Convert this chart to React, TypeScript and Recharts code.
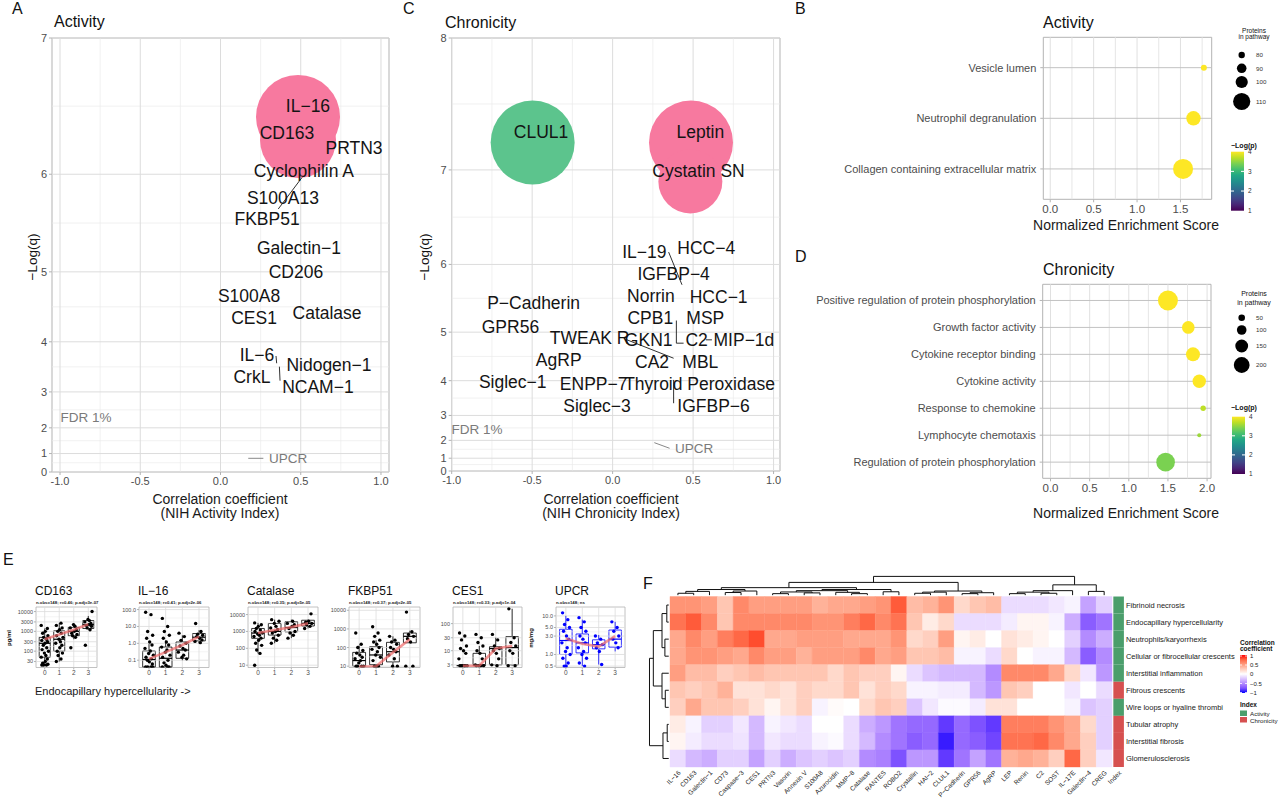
import React from 'react';
import { ScatterChart, Scatter, XAxis, YAxis, ZAxis, ReferenceLine, ReferenceArea } from 'recharts';

const FONT = '"Liberation Sans", Arial, Helvetica, sans-serif';
const TICK_GRAY = '#4d4d4d';
const GRID = '#dcdcdc';
const GRID_MINOR = '#ebebeb';
const BORDER = '#b3b3b3';
const PINK = '#f7799f';
const GREEN = '#5cc48d';

// ---------- Panel A (Activity volcano) ----------
const actNames = ['IL−16', 'CD163', 'PRTN3', 'Cyclophilin A', 'S100A13', 'FKBP51', 'Galectin−1', 'CD206', 'S100A8', 'CES1', 'Catalase', 'IL−6', 'Nidogen−1', 'CrkL', 'NCAM−1'];
const actCorr = [0.545, 0.414, 0.832, 0.52, 0.389, 0.29, 0.489, 0.47, 0.178, 0.209, 0.664, 0.227, 0.676, 0.196, 0.607];
const actLogQ = [6.543, 6.34, 6.221, 6.029, 5.786, 5.582, 5.277, 4.999, 4.691, 4.379, 4.453, 3.768, 3.578, 3.335, 3.115];
const actBubbleCorr = [0.483, 0.483];
const actBubbleLogQ = [6.462, 6.284];
const actBubbleSign = [1, 1];
const actLinks = [[0.637, 6.204, 0.36, 5.681], [0.346, 3.749, 0.35, 3.612], [0.367, 3.545, 0.371, 3.255]];
const actRefNames = ['FDR 1%', 'UPCR'];
const actRefCorr = [-0.838, 0.421];
const actRefLogQ = [2.338, 0.788];
const actRefLinks = [[0.173, 0.773, 0.267, 0.773]];

// ---------- Panel C (Chronicity volcano) ----------
const chrNames = ['CLUL1', 'Leptin', 'Cystatin SN', 'IL−19', 'HCC−4', 'IGFBP−4', 'Norrin', 'HCC−1', 'P−Cadherin', 'CPB1', 'MSP', 'GPR56', 'TWEAK R', 'GKN1', 'C2', 'MIP−1d', 'AgRP', 'CA2', 'MBL', 'Siglec−1', 'ENPP−7', 'Thyroid Peroxidase', 'Siglec−3', 'IGFBP−6'];
const chrCorr = [-0.445, 0.545, 0.534, 0.197, 0.582, 0.379, 0.238, 0.659, -0.491, 0.234, 0.576, -0.635, -0.143, 0.224, 0.522, 0.816, -0.335, 0.245, 0.545, -0.621, -0.118, 0.54, -0.097, 0.627];
const chrLogQ = [7.327, 7.327, 6.986, 6.158, 6.198, 5.88, 5.577, 5.558, 5.479, 5.236, 5.236, 5.086, 4.904, 4.862, 4.862, 4.862, 4.47, 4.433, 4.433, 3.977, 3.912, 3.912, 3.308, 3.308];
const chrBubbleCorr = [-0.497, 0.487, 0.483];
const chrBubbleLogQ = [7.237, 7.237, 6.895];
const chrBubbleSign = [-1, 1, 1];
const chrLinks = [[0.348, 6.151, 0.431, 5.733], [0.396, 5.197, 0.396, 4.8], [0.396, 4.8, 0.441, 4.8], [0.089, 4.862, 0.379, 4.504], [0.379, 4.018, 0.379, 3.391], [0.58, 4.862, 0.617, 4.862]];
const chrRefNames = ['FDR 1%', 'UPCR'];
const chrRefCorr = [-0.842, 0.507];
const chrRefLogQ = [2.458, 1.597];
const chrRefLinks = [[0.259, 1.888, 0.354, 1.597]];

// ---------- Panels B / D (enrichment) ----------
const actPathways = ['Vesicle lumen', 'Neutrophil degranulation', 'Collagen containing extracellular matrix'];
const actNES = [1.77, 1.65, 1.53];
const actLogP = [4.0, 4.0, 4.0];
const actProteins = [80, 95, 112];
const chrPathways = ['Positive regulation of protein phosphorylation', 'Growth factor activity', 'Cytokine receptor binding', 'Cytokine activity', 'Response to chemokine', 'Lymphocyte chemotaxis', 'Regulation of protein phosphorylation'];
const chrNES = [1.5, 1.76, 1.82, 1.9, 1.95, 1.9, 1.47];
const chrLogP = [4.0, 4.0, 4.0, 4.0, 3.7, 3.55, 3.4];
const chrProteins = [230, 105, 124, 115, 37, 30, 202];

// ---------- Panel E (box plots by endocapillary hypercellularity grade) ----------
const eTitles = ['CD163', 'IL−16', 'Catalase', 'FKBP51', 'CES1', 'UPCR'];
const eSubs = ['n.obs=148; r=0.46; p.adj=3e-07', 'n.obs=148; r=0.41; p.adj=2e-06', 'n.obs=148; r=0.35; p.adj=5e-05', 'n.obs=148; r=0.37; p.adj=2e-05', 'n.obs=148; r=0.33; p.adj=1e-04', 'n.obs=148; ns'];
const eUnits = ['pg/ml', '', '', '', '', 'mg/mg'];
const cd163Vals = [
  [20, 20, 20, 22, 25, 30, 40, 50, 60, 80, 100, 120, 150, 200, 250, 300, 350, 400, 500, 600, 800, 1000, 1400, 2000],
  [30, 40, 60, 80, 100, 150, 200, 250, 300, 400, 500, 600, 800, 1000, 1200, 1500, 2000, 2600],
  [150, 500, 600, 700, 800, 1000, 1200, 1500, 1800, 2200],
  [200, 1200, 1500, 1800, 2000, 2200, 2500, 3000, 3500, 4000, 10000],
];
const cd163Box = [[20, 50, 250, 500, 1400], [30, 100, 400, 1070, 2600], [400, 600, 1000, 1600, 2500], [1200, 1400, 2200, 3500, 6000]];
const cd163Trend = [400, 700, 1200, 2300];
const il16Vals = [
  [70, 50, 5, 3, 2, 1.2, 0.8, 0.5, 0.35, 0.25, 0.2, 0.15, 0.12, 0.1, 0.08, 0.06, 0.04, 0.04, 0.04, 0.04],
  [30, 10, 5, 3, 2, 1.2, 0.8, 0.6, 0.4, 0.3, 0.2, 0.15, 0.1, 0.07, 0.05, 0.04, 0.04, 0.04],
  [4, 2.5, 1.5, 1.0, 0.7, 0.5, 0.4, 0.3, 0.2, 0.15, 0.12],
  [15, 5, 3.5, 3, 2.5, 2, 1.6, 1.3, 1.1],
];
const il16Box = [[0.04, 0.04, 0.11, 0.35, 0.9], [0.04, 0.04, 0.13, 0.6, 1.5], [0.1, 0.13, 0.4, 1.2, 3], [1.0, 1.4, 2.3, 3.8, 6]];
const il16Trend = [0.12, 0.3, 0.8, 2.5];
const catalaseVals = [
  [10, 50, 80, 150, 200, 300, 400, 500, 600, 700, 800, 1000, 1200, 1500, 2000, 2500, 3200],
  [200, 300, 400, 600, 800, 1000, 1300, 1600, 2000, 3000, 4000, 5000],
  [400, 600, 800, 1000, 1500, 2000, 2500, 3000, 4000],
  [1500, 2000, 2500, 3000, 3500, 4000, 11000],
];
const catalaseBox = [[50, 390, 800, 1500, 3200], [200, 610, 1000, 2950, 5000], [400, 950, 1700, 3700, 5000], [1500, 2100, 3000, 4600, 5000]];
const catalaseTrend = [800, 1200, 1800, 3000];
const fkbp51Vals = [
  [600, 150, 100, 70, 50, 40, 30, 25, 20, 15, 10, 10, 10, 10],
  [1300, 600, 400, 250, 200, 150, 100, 80, 60, 40, 30, 20, 10, 10, 10],
  [400, 250, 200, 150, 100, 80, 60, 40, 25, 10, 10],
  [8000, 700, 500, 400, 300, 200, 10, 10],
];
const fkbp51Box = [[10, 10, 20, 55, 130], [10, 12, 40, 110, 250], [10, 17, 60, 190, 400], [180, 180, 400, 600, 800]];
const fkbp51Trend = [9.5, 10, 55, 280];
const ces1Vals = [
  [45, 35, 25, 15, 12, 10, 8, 5, 2.8, 2.8, 2.8, 2.8, 2.8, 2.8],
  [40, 30, 20, 15, 10, 8, 5, 3, 2.8, 2.8, 2.8, 2.8],
  [40, 25, 15, 12, 10, 8, 5, 3, 2.8],
  [350, 30, 20, 15, 10, 8, 2.8, 2.8],
];
const ces1Box = [[2.8, 2.8, 2.8, 2.8, 2.8], [2.8, 2.8, 3, 8, 15], [2.8, 3, 12, 14, 30], [2.8, 3, 13, 33, 350]];
const ces1Trend = [2.8, 2.8, 12, 15];
const upcrVals = [
  [12, 8, 6, 5, 4, 3, 2.5, 2, 1.5, 1.2, 1, 0.8, 0.6, 0.5, 0.5],
  [9, 7, 5, 4, 3, 2.5, 2, 1.5, 1.2, 1, 0.8, 0.6, 0.5],
  [3, 2.5, 2, 1.8, 1.5, 1.2, 0.55],
  [7, 5, 4, 3, 2.5, 2, 1.5],
];
const upcrBox = [[0.5, 1.0, 2.3, 4.5, 10], [0.5, 1.1, 2.0, 3.4, 8], [0.55, 1.4, 1.8, 2.4, 3.2], [1.2, 1.55, 2.5, 4.3, 7]];
const upcrTrend = [2.6, 1.9, 1.6, 3.0];
const eTicks = [[30, 100, 300, 1000, 3000, 10000], [0.1, 1, 10, 100], [10, 100, 1000, 10000], [10, 100, 1000, 10000], [3, 10, 30, 100], [0.5, 1, 3, 5, 10]];
const eTickLabels = [['30', '100', '300', '1000', '3000', '10000'], ['0.1', '1.0', '10.0', '100.0'], ['10', '100', '1000', '10000'], ['10', '100', '1000', '10000'], ['3', '10', '30', '100'], ['0.5', '1.0', '3.0', '5.0', '10.0']];
const eDomains = [[15, 17000], [0.037, 142], [7.3, 28000], [8.5, 15000], [2.4, 410], [0.46, 17]];
const eGroups = [0, 1, 2, 3];

// ---------- Panel F (heatmap) ----------
const hmRows = ['Fibrinoid necrosis', 'Endocapillary hypercellularity', 'Neutrophils/karyorrhexis', 'Cellular or fibrocellular crescents', 'Interstitial inflammation', 'Fibrous crescents', 'Wire loops or hyaline thrombi', 'Tubular atrophy', 'Interstitial fibrosis', 'Glomerulosclerosis'];
const hmIndex = ['Activity', 'Activity', 'Activity', 'Activity', 'Activity', 'Chronicity', 'Activity', 'Chronicity', 'Chronicity', 'Chronicity'];
const hmCols = ['IL−16', 'CD163', 'Galectin−1', 'CD73', 'Caspase−3', 'CES1', 'PRTN3', 'Vasorin', 'Annexin V', 'S100A8', 'Azurocidin', 'MMP−8', 'Catalase', 'RANTES', 'ROBO2', 'Crystallin', 'HAI−2', 'CLUL1', 'P−Cadherin', 'GPR56', 'AgRP', 'LEP', 'Renin', 'C2', 'SOST', 'IL−17E', 'Galectin−4', 'CREG'];
const hmVals = [
  [0.55, 0.55, 0.5, 0.3, 0.6, 0.5, 0.5, 0.5, 0.5, 0.4, 0.45, 0.45, 0.5, 0.55, 0.8, 0.35, 0.4, 0.55, 0.2, 0.3, 0.35, -0.15, -0.15, -0.15, -0.1, -0.05, -0.4, -0.2],
  [0.7, 0.8, 0.6, 0.3, 0.6, 0.6, 0.6, 0.6, 0.6, 0.55, 0.55, 0.65, 0.75, 0.6, 0.7, 0.3, 0.1, 0.2, -0.15, -0.15, -0.15, -0.08, 0.05, 0.05, -0.05, -0.35, -0.7, -0.6],
  [0.45, 0.6, 0.5, 0.65, 0.75, 0.85, 0.45, 0.45, 0.5, 0.5, 0.5, 0.45, 0.45, 0.45, 0.55, 0.2, 0.25, 0.5, 0.05, 0.1, 0.0, 0.15, 0.1, 0.05, 0.0, -0.2, -0.5, -0.35],
  [0.45, 0.55, 0.55, 0.5, 0.45, 0.6, 0.5, 0.5, 0.4, 0.5, 0.5, 0.5, 0.6, 0.45, 0.5, 0.3, 0.3, 0.35, -0.05, -0.05, -0.15, 0.2, 0.0, -0.05, -0.05, -0.3, -0.7, -0.5],
  [0.5, 0.35, 0.35, 0.25, 0.3, 0.35, 0.3, 0.3, 0.3, 0.3, 0.2, 0.3, 0.25, 0.25, 0.05, -0.15, -0.25, -0.3, -0.3, -0.3, -0.5, 0.6, 0.6, 0.6, 0.45, 0.2, -0.1, -0.45],
  [0.3, 0.25, 0.3, 0.4, 0.15, 0.15, 0.2, 0.15, 0.25, 0.2, 0.2, 0.3, 0.15, 0.25, 0.2, -0.05, -0.05, -0.08, -0.08, -0.3, -0.45, 0.3, 0.25, 0.0, 0.0, -0.1, 0.0, -0.15],
  [0.25, 0.45, 0.3, 0.3, 0.25, 0.15, 0.05, 0.15, 0.25, -0.05, 0.02, 0.0, 0.2, 0.3, 0.25, -0.25, -0.1, -0.02, -0.02, -0.08, 0.15, 0.15, 0.0, 0.0, 0.0, -0.05, -0.25, -0.2],
  [0.1, -0.05, -0.2, -0.2, -0.1, -0.3, -0.05, -0.1, -0.15, 0.0, 0.0, -0.15, -0.35, -0.45, -0.6, -0.65, -0.65, -0.85, -0.65, -0.75, -0.85, 0.65, 0.65, 0.65, 0.55, 0.45, 0.2, -0.2],
  [0.05, -0.08, -0.15, -0.15, -0.12, -0.3, -0.1, -0.15, -0.15, -0.05, -0.02, -0.15, -0.3, -0.5, -0.6, -0.7, -0.65, -0.95, -0.65, -0.7, -0.8, 0.7, 0.7, 0.75, 0.6, 0.45, 0.25, -0.2],
  [-0.15, -0.3, -0.35, -0.2, -0.2, -0.4, -0.2, -0.35, -0.25, -0.2, -0.25, -0.2, -0.5, -0.55, -0.75, -0.45, -0.45, -0.85, -0.6, -0.4, -0.6, 0.4, 0.45, 0.4, 0.25, 0.75, 0.25, -0.1],
];
// cluster trees: [left, right, mergeHeight]
const colTree: any = [
  [
    [
      [[[0, 1, 0.1], 2, 0.2], [[3, 4, 0.14], 5, 0.22], 0.3],
      [[[[6, 7, 0.08], [8, 9, 0.12], 0.17], [10, [11, 12, 0.08], 0.15], 0.24], [13, 14, 0.18], 0.3],
      0.4,
    ],
    [[[15, 16, 0.1], 17, 0.16], [[18, 19, 0.08], 20, 0.13], 0.22],
    0.68,
  ],
  [[[[21, 22, 0.08], [23, 24, 0.1], 0.16], 25, 0.24], [26, 27, 0.2], 0.55],
  1.0,
];
const rowTree: any = [
  [[[0, 1, 0.1], [2, 3, 0.2], 0.35], [4, [5, 6, 0.18], 0.35], 0.8],
  [[7, 8, 0.08], 9, 0.3],
  1.0,
];

// ---------- helpers ----------
const tq = (v: number) => Math.exp(v / 3) - 1;
const itq = (t: number) => 3 * Math.log(t + 1);
const seq = (a: number, b: number) => { const r: number[] = []; for (let i = a; i <= b; i++) r.push(i); return r; };

const viridisStops = ['#440154', '#482475', '#414487', '#355F8D', '#2A788E', '#21918C', '#22A884', '#44BF70', '#7AD151', '#BDDF26', '#FDE725'];
const hex2rgb = (h: string) => [parseInt(h.slice(1, 3), 16), parseInt(h.slice(3, 5), 16), parseInt(h.slice(5, 7), 16)];
const rgb2hex = (c: number[]) => '#' + c.map((v) => Math.round(Math.max(0, Math.min(255, v))).toString(16).padStart(2, '0')).join('');
function viridis(v: number) {
  const t = Math.max(0, Math.min(1, (v - 1) / 3)) * 10;
  const i = Math.min(9, Math.floor(t));
  const f = t - i;
  const a = hex2rgb(viridisStops[i]);
  const b = hex2rgb(viridisStops[i + 1]);
  return rgb2hex(a.map((x, k) => x + (b[k] - x) * f));
}
const lin = (c: number) => { c /= 255; return c <= 0.04045 ? c / 12.92 : Math.pow((c + 0.055) / 1.055, 2.4); };
const gam = (c: number) => { const v = c <= 0.0031308 ? 12.92 * c : 1.055 * Math.pow(Math.max(c, 0), 1 / 2.4) - 0.055; return Math.max(0, Math.min(1, v)) * 255; };
const Wn = [0.95047, 1, 1.08883];
const fLab = (t: number) => (t > 0.008856 ? Math.cbrt(t) : 7.787 * t + 16 / 116);
const fInv = (t: number) => (t * t * t > 0.008856 ? t * t * t : (t - 16 / 116) / 7.787);
function rgb2lab(c: number[]) {
  const R = lin(c[0]), G = lin(c[1]), B = lin(c[2]);
  const X = (0.4124 * R + 0.3576 * G + 0.1805 * B) / Wn[0];
  const Y = (0.2126 * R + 0.7152 * G + 0.0722 * B) / Wn[1];
  const Z = (0.0193 * R + 0.1192 * G + 0.9505 * B) / Wn[2];
  const fx = fLab(X), fy = fLab(Y), fz = fLab(Z);
  return [116 * fy - 16, 500 * (fx - fy), 200 * (fy - fz)];
}
function lab2hex(l: number[]) {
  const fy = (l[0] + 16) / 116, fx = fy + l[1] / 500, fz = fy - l[2] / 200;
  const X = fInv(fx) * Wn[0], Y = fInv(fy) * Wn[1], Z = fInv(fz) * Wn[2];
  const R = 3.2406 * X - 1.5372 * Y - 0.4986 * Z;
  const G = -0.9689 * X + 1.8758 * Y + 0.0415 * Z;
  const B = 0.0557 * X - 0.204 * Y + 1.057 * Z;
  return rgb2hex([gam(R), gam(G), gam(B)]);
}
const LAB_W = rgb2lab([255, 255, 255]);
const LAB_R = rgb2lab([255, 0, 0]);
const LAB_B = rgb2lab([0, 0, 255]);
function heatColor(v: number) {
  const t = Math.max(0, Math.min(1, Math.abs(v)));
  const e = v >= 0 ? LAB_R : LAB_B;
  return lab2hex(LAB_W.map((w, k) => w + (e[k] - w) * t));
}

function dendro(t: any, out: number[][]): number[] {
  if (typeof t === 'number') return [t + 0.5, 0];
  const a = dendro(t[0], out);
  const b = dendro(t[1], out);
  const h = t[2];
  out.push([a[0], a[1], a[0], h], [b[0], b[1], b[0], h], [a[0], h, b[0], h]);
  return [(a[0] + b[0]) / 2, h];
}

// single-line tick label (no wrapping)
const lineTick = (fmt: (v: number) => string, anchor: string, size: number, fill: string) => (pr: any) => (
  <text x={pr.x} y={pr.y} textAnchor={anchor} dominantBaseline="central" fontSize={size} fill={fill}>{fmt(pr.payload.value)}</text>
);

// ---------- Volcano (A, C) ----------
function Volcano(p: any) {
  const labelData = p.names.map((n: string, i: number) => ({ x: p.corr[i], y: tq(p.logq[i]), name: n }));
  const refData = p.refNames.map((n: string, i: number) => ({ x: p.refCorr[i], y: tq(p.refLogQ[i]), name: n }));
  const bubbleData = p.bCorr.map((c: number, i: number) => ({ x: c, y: tq(p.bLogQ[i]), q: p.bLogQ[i], sign: p.bSign[i] }));
  const majY = seq(0, p.yMax);
  const minY = majY.slice(0, -1).map((v) => (tq(v) + tq(v + 1)) / 2);
  const majX = [-1, -0.5, 0, 0.5, 1];
  const minX = [-0.75, -0.25, 0.25, 0.75];
  return (
    <div style={{ position: 'absolute', left: p.left, top: 0 }}>
      <ScatterChart width={p.width} height={p.height} margin={{ top: p.plotTop, right: p.marginRight, bottom: 0, left: 0 }}>
        <XAxis type="number" dataKey="x" domain={p.xDomain} ticks={majX} allowDataOverflow interval={0}
          tickFormatter={(v: number) => v.toFixed(1)} axisLine={false} tickLine={{ stroke: BORDER }} tickSize={3} tickMargin={2}
          height={p.xAxisH} tick={{ fill: TICK_GRAY, fontSize: 11 }} />
        <YAxis type="number" dataKey="y" domain={[0, tq(p.yMax)]} ticks={majY.map(tq)} allowDataOverflow interval={0}
          tickFormatter={(v: number) => String(Math.round(itq(v)))} axisLine={false} tickLine={{ stroke: BORDER }} tickSize={3} tickMargin={2}
          width={p.yAxisW} tick={{ fill: TICK_GRAY, fontSize: 11 }} />
        <ZAxis zAxisId="b" type="number" dataKey="q" range={p.zRange} domain={[Math.min(...p.bLogQ), Math.max(...p.bLogQ)]} />
        <ZAxis zAxisId="l" type="number" dataKey="x" range={[1, 1]} />
        {minY.map((v) => <ReferenceLine key={'my' + v} y={v} stroke={GRID_MINOR} strokeWidth={0.7} />)}
        {minX.map((v) => <ReferenceLine key={'mx' + v} x={v} stroke={GRID_MINOR} strokeWidth={0.7} />)}
        {majY.map((v) => <ReferenceLine key={'My' + v} y={tq(v)} stroke={GRID} strokeWidth={1} />)}
        {majX.map((v) => <ReferenceLine key={'Mx' + v} x={v} stroke={GRID} strokeWidth={1} />)}
        <ReferenceArea x1={p.xDomain[0]} x2={p.xDomain[1]} y1={0} y2={tq(p.yMax)} fill="none" stroke={BORDER} strokeWidth={1} ifOverflow="visible" />
        <Scatter data={bubbleData} zAxisId="b" isAnimationActive={false}
          shape={(s: any) => <circle cx={s.cx} cy={s.cy} r={s.size ? Math.sqrt(s.size / Math.PI) : s.width / 2} fill={s.payload.sign > 0 ? PINK : GREEN} />} />
        {p.links.map((l: number[], i: number) => (
          <ReferenceLine key={'lk' + i} segment={[{ x: l[0], y: tq(l[1]) }, { x: l[2], y: tq(l[3]) }]} stroke="#1a1a1a" strokeWidth={0.9} />
        ))}
        {p.refLinks.map((l: number[], i: number) => (
          <ReferenceLine key={'rl' + i} segment={[{ x: l[0], y: tq(l[1]) }, { x: l[2], y: tq(l[3]) }]} stroke="#7a7a7a" strokeWidth={0.9} />
        ))}
        <Scatter data={refData} zAxisId="l" isAnimationActive={false}
          shape={(s: any) => <text x={s.cx} y={s.cy} textAnchor="middle" dominantBaseline="central" fontSize={13.5} fill="#7a7a7a">{s.payload.name}</text>} />
        <Scatter data={labelData} zAxisId="l" isAnimationActive={false}
          shape={(s: any) => <text x={s.cx} y={s.cy} textAnchor="middle" dominantBaseline="central" fontSize={17.5} fill="#141414">{s.payload.name}</text>} />
      </ScatterChart>
    </div>
  );
}

// ---------- Dot plot (B, D) ----------
function DotPlot(p: any) {
  const data = p.cats.map((c: string, i: number) => ({ x: p.nes[i], y: i + 1, z: p.prot[i], logp: p.logp[i] }));
  const n = p.cats.length;
  return (
    <div style={{ position: 'absolute', left: p.left, top: p.top }}>
      <ScatterChart width={p.width} height={p.height} margin={{ top: p.plotTop, right: p.marginRight, bottom: 0, left: 0 }}>
        <XAxis type="number" dataKey="x" domain={p.xDomain} ticks={p.xTicks} allowDataOverflow interval={0}
          tickFormatter={(v: number) => v.toFixed(1)} axisLine={false} tickLine={{ stroke: BORDER }} tickSize={3} tickMargin={3}
          height={p.xAxisH} tick={{ fill: TICK_GRAY, fontSize: 11.5 }} />
        <YAxis type="number" dataKey="y" domain={[0.4, n + 0.6]} reversed ticks={seq(1, n)} allowDataOverflow interval={0}
          axisLine={false} tickLine={{ stroke: BORDER }} tickSize={3} tickMargin={4} width={p.yAxisW}
          tick={lineTick((v: number) => p.cats[Math.round(v) - 1], 'end', 11, TICK_GRAY)} />
        <ZAxis type="number" dataKey="z" range={p.zRange} domain={[Math.min(...p.prot), Math.max(...p.prot)]} />
        {p.xMinor.map((v: number) => <ReferenceLine key={'mx' + v} x={v} stroke="#e6e6e6" strokeWidth={1} />)}
        {p.xTicks.map((v: number) => <ReferenceLine key={'Mx' + v} x={v} stroke="#e0e0e0" strokeWidth={1} />)}
        {seq(1, n).map((v) => <ReferenceLine key={'My' + v} y={v} stroke="#c2c2c2" strokeWidth={1} />)}
        <ReferenceArea x1={p.xDomain[0]} x2={p.xDomain[1]} y1={0.4} y2={n + 0.6} fill="none" stroke={BORDER} strokeWidth={1} ifOverflow="visible" />
        <Scatter data={data} isAnimationActive={false}
          shape={(s: any) => <circle cx={s.cx} cy={s.cy} r={s.size ? Math.sqrt(s.size / Math.PI) : s.width / 2} fill={viridis(s.payload.logp)} />} />
      </ScatterChart>
    </div>
  );
}

// ---------- Box plot panels (E) ----------
const JIT = [-0.2, 0.12, -0.08, 0.22, -0.14, 0.04, 0.18, -0.24, 0.08, -0.02, 0.26, -0.18, 0.14, -0.1, 0.02, 0.2];
const eVals = [cd163Vals, il16Vals, catalaseVals, fkbp51Vals, ces1Vals, upcrVals];
const eBoxes = [cd163Box, il16Box, catalaseBox, fkbp51Box, ces1Box, upcrBox];
const eTrends = [cd163Trend, il16Trend, catalaseTrend, fkbp51Trend, ces1Trend, upcrTrend];
const eLayout = [{ left: 36, w: 61 }, { left: 139, w: 70 }, { left: 248, w: 70 }, { left: 349, w: 71 }, { left: 453, w: 69 }, { left: 556, w: 69 }];
const eColors = ['#000', '#000', '#000', '#000', '#000', '#0000ff'];

function BoxPanel({ k }: { k: number }) {
  const { left, w } = eLayout[k];
  const ticks = eTicks[k];
  const labels = eTickLabels[k];
  const dom = eDomains[k];
  const col = eColors[k];
  const pts = eVals[k].flatMap((vals: number[], g: number) => vals.map((v, i) => ({ x: g + JIT[i % JIT.length], y: v })));
  const trend = eTrends[k].map((v, g) => ({ x: g, y: v }));
  const minor = ticks.slice(0, -1).map((t, i) => Math.sqrt(t * ticks[i + 1]));
  const YW = 34;
  const hw = 0.38;
  return (
    <div style={{ position: 'absolute', left: left - YW, top: 604 }}>
      <ScatterChart width={YW + w + 2} height={76} margin={{ top: 3, right: 2, bottom: 0, left: 0 }}>
        <XAxis type="number" dataKey="x" domain={[-0.6, 3.6]} ticks={eGroups} allowDataOverflow interval={0}
          axisLine={false} tickLine={{ stroke: BORDER }} tickSize={2} tickMargin={1} height={12.5} tick={{ fill: TICK_GRAY, fontSize: 6.5 }} />
        <YAxis type="number" dataKey="y" scale="log" domain={dom} ticks={ticks} allowDataOverflow interval={0}
          tickFormatter={(v: number) => { const i = ticks.findIndex((t) => Math.abs(t - v) < t * 1e-6); return i >= 0 ? labels[i] : ''; }}
          axisLine={false} tickLine={{ stroke: BORDER }} tickSize={2} tickMargin={1} width={YW} tick={{ fill: TICK_GRAY, fontSize: 5.5 }} />
        {minor.map((v) => <ReferenceLine key={'m' + v} y={v} stroke={GRID_MINOR} strokeWidth={0.5} />)}
        {ticks.map((v) => <ReferenceLine key={'M' + v} y={v} stroke={GRID} strokeWidth={0.8} />)}
        {eGroups.map((g) => <ReferenceLine key={'g' + g} x={g} stroke={GRID} strokeWidth={0.8} />)}
        <ReferenceArea x1={-0.6} x2={3.6} y1={dom[0]} y2={dom[1]} fill="none" stroke={BORDER} strokeWidth={0.8} ifOverflow="visible" />
        {eBoxes[k].map((b, g) => (
          <ReferenceArea key={'b' + g} x1={g - hw} x2={g + hw} y1={b[1]} y2={b[3]} fill="none" fillOpacity={0} stroke={col} strokeWidth={0.8} ifOverflow="visible" />
        ))}
        {eBoxes[k].map((b, g) => (
          <ReferenceLine key={'md' + g} segment={[{ x: g - hw, y: b[2] }, { x: g + hw, y: b[2] }]} stroke={col} strokeWidth={1.2} />
        ))}
        {eBoxes[k].map((b, g) => (
          <ReferenceLine key={'wu' + g} segment={[{ x: g, y: b[3] }, { x: g, y: b[4] }]} stroke={col} strokeWidth={0.8} />
        ))}
        {eBoxes[k].map((b, g) => (
          <ReferenceLine key={'wl' + g} segment={[{ x: g, y: b[0] }, { x: g, y: b[1] }]} stroke={col} strokeWidth={0.8} />
        ))}
        <Scatter data={pts} isAnimationActive={false} shape={(s: any) => <circle cx={s.cx} cy={s.cy} r={1.7} fill={col} />} />
        <Scatter data={trend} isAnimationActive={false} line={{ stroke: '#f06a6a', strokeWidth: 2.6, strokeOpacity: 0.7 }} lineType="joint" shape={() => <g />} />
      </ScatterChart>
    </div>
  );
}

// ---------- Heatmap (F) ----------
function Heatmap() {
  const colSegs: number[][] = [];
  dendro(colTree, colSegs);
  const rowSegs: number[][] = [];
  dendro(rowTree, rowSegs);
  const cy = (h: number) => -0.08 - h * 1.1;
  const rx = (h: number) => -0.08 - h * 1.22;
  const xTicks = [...hmCols.map((_, i) => i + 0.5), 28.415];
  return (
    <div style={{ position: 'absolute', left: 640, top: 560 }}>
      <ScatterChart width={640} height={244} margin={{ top: 15.2, right: 36.1, bottom: 0, left: 8.7 }}>
        <XAxis type="number" dataKey="x" domain={[-1.35, 28.75]} ticks={xTicks} allowDataOverflow interval={0}
          tickFormatter={(v: number) => (v > 28 ? 'Index' : hmCols[Math.floor(v)])} angle={-45} textAnchor="end"
          axisLine={false} tickLine={false} tickSize={0} tickMargin={3} height={37} tick={{ fill: '#222', fontSize: 6.5 }} />
        <YAxis type="number" dataKey="y" orientation="right" domain={[-1.25, 10]} reversed ticks={hmRows.map((_, i) => i + 0.5)} allowDataOverflow interval={0}
          axisLine={false} tickLine={false} tickSize={0} tickMargin={2} width={120}
          tick={lineTick((v: number) => hmRows[Math.floor(v)], 'start', 7.5, '#222')} />
        {hmVals.flatMap((row, r) => row.map((v, c) => (
          <ReferenceArea key={'c' + r + '_' + c} x1={c} x2={c + 1} y1={r} y2={r + 1} fill={heatColor(v)} fillOpacity={1} stroke={heatColor(v)} strokeWidth={0.4} ifOverflow="visible" />
        )))}
        {hmIndex.map((g, r) => (
          <ReferenceArea key={'ix' + r} x1={28.08} x2={28.75} y1={r} y2={r + 1} fill={g === 'Activity' ? '#4b9e6c' : '#d65050'} fillOpacity={1} stroke="none" ifOverflow="visible" />
        ))}
        {colSegs.map((s, i) => (
          <ReferenceLine key={'cs' + i} segment={[{ x: s[0], y: cy(s[1]) }, { x: s[2], y: cy(s[3]) }]} stroke="#111" strokeWidth={1} ifOverflow="visible" />
        ))}
        {rowSegs.map((s, i) => (
          <ReferenceLine key={'rs' + i} segment={[{ x: rx(s[1]), y: s[0] }, { x: rx(s[3]), y: s[2] }]} stroke="#111" strokeWidth={1} ifOverflow="visible" />
        ))}
      </ScatterChart>
    </div>
  );
}

// ---------- Text overlay: panel letters, titles, axis titles, legends ----------
function Overlay() {
  const heatStops = [1, 0.75, 0.5, 0.25, 0, -0.25, -0.5, -0.75, -1];
  const t = (x: number, y: number, s: string, size: number, extra: any = {}) => (
    <text x={x} y={y} fontSize={size} fill={extra.fill || '#111'} textAnchor={extra.anchor || 'start'} fontWeight={extra.weight || 'normal'} transform={extra.transform}>{s}</text>
  );
  const sizeLegend = (x: number, items: [number, number, string][]) => items.map(([y, r, lab]) => (
    <g key={lab}>
      <circle cx={x} cy={y} r={r} fill="#000" />
      {t(1256, y + 2.2, lab, 6.2, { fill: '#333' })}
    </g>
  ));
  const colorBar = (x: number, y0: number, y1: number) => {
    const step = (y1 - y0) / 3;
    return (
      <g>
        <rect x={x} y={y0} width={13} height={y1 - y0} fill="url(#vir)" />
        {[1, 2].map((i) => (
          <g key={i}>
            <line x1={x} x2={x + 3} y1={y0 + i * step} y2={y0 + i * step} stroke="#fff" strokeWidth={1} />
            <line x1={x + 10} x2={x + 13} y1={y0 + i * step} y2={y0 + i * step} stroke="#fff" strokeWidth={1} />
          </g>
        ))}
        {['4', '3', '2', '1'].map((s, i) => <g key={s}>{t(x + 17, y0 + i * step + 2.3, s, 6.5, { fill: '#333' })}</g>)}
      </g>
    );
  };
  return (
    <svg width={1280} height={804} style={{ position: 'absolute', left: 0, top: 0, pointerEvents: 'none', fontFamily: FONT }}>
      <defs>
        <linearGradient id="vir" x1="0" y1="1" x2="0" y2="0">
          {viridisStops.map((c, i) => <stop key={i} offset={i / 10} stopColor={c} />)}
        </linearGradient>
        <linearGradient id="heat" x1="0" y1="0" x2="0" y2="1">
          {heatStops.map((v, i) => <stop key={i} offset={i / 8} stopColor={heatColor(v)} />)}
        </linearGradient>
      </defs>
      {t(12, 14, 'A', 16)}
      {t(403, 14, 'C', 16)}
      {t(795, 14, 'B', 16)}
      {t(795, 262, 'D', 16)}
      {t(3, 565, 'E', 16)}
      {t(643, 589, 'F', 16)}
      {t(54, 27, 'Activity', 16)}
      {t(445, 27.5, 'Chronicity', 16)}
      {t(220, 504, 'Correlation coefficient', 14, { anchor: 'middle', fill: '#1a1a1a' })}
      {t(220, 517.5, '(NIH Activity Index)', 14, { anchor: 'middle', fill: '#1a1a1a' })}
      {t(611, 504, 'Correlation coefficient', 14, { anchor: 'middle', fill: '#1a1a1a' })}
      {t(611, 517.5, '(NIH Chronicity Index)', 14, { anchor: 'middle', fill: '#1a1a1a' })}
      {t(0, 0, '−Log(q)', 13.5, { anchor: 'middle', transform: 'translate(37,257) rotate(-90)' })}
      {t(0, 0, '−Log(q)', 13.5, { anchor: 'middle', transform: 'translate(428.5,257) rotate(-90)' })}
      {t(1043, 27.5, 'Activity', 16)}
      {t(1043, 275, 'Chronicity', 16)}
      {t(1126, 230, 'Normalized Enrichment Score', 14, { anchor: 'middle', fill: '#1a1a1a' })}
      {t(1126, 517.5, 'Normalized Enrichment Score', 14, { anchor: 'middle', fill: '#1a1a1a' })}
      {t(1254, 33, 'Proteins', 6.5, { anchor: 'middle' })}
      {t(1254, 39, 'in pathway', 6.5, { anchor: 'middle' })}
      {sizeLegend(1241.7, [[55, 3.2, '80'], [68.3, 4.8, '90'], [82, 6.1, '100'], [101.5, 8.6, '110']])}
      {t(1231, 147.5, '−Log(p)', 7, { weight: 'bold' })}
      {colorBar(1231, 151.7, 210.7)}
      {t(1254, 296, 'Proteins', 7, { anchor: 'middle' })}
      {t(1254, 305, 'in pathway', 7, { anchor: 'middle' })}
      {sizeLegend(1241.7, [[317.7, 3.3, '50'], [330, 4.8, '100'], [346, 6.4, '150'], [365, 7.9, '200']])}
      {t(1231, 410, '−Log(p)', 7, { weight: 'bold' })}
      {colorBar(1232, 416.7, 474)}
      {eLayout.map((l, k) => (
        <g key={'et' + k}>
          {t(l.left - 1, 595, eTitles[k], 12)}
          {t(l.left, 603.5, eSubs[k], 4.3, { weight: 'bold', fill: '#222' })}
        </g>
      ))}
      {t(0, 0, eUnits[0], 6, { anchor: 'middle', weight: 'bold', transform: 'translate(10.5,638) rotate(-90)' })}
      {t(0, 0, eUnits[5], 6, { anchor: 'middle', weight: 'bold', transform: 'translate(533,638) rotate(-90)' })}
      {t(35, 695, 'Endocapillary hypercellularity ->', 11, { fill: '#1a1a1a' })}
      {t(1240, 644.5, 'Correlation', 6.5, { weight: 'bold' })}
      {t(1240, 651, 'coefficient', 6.5, { weight: 'bold' })}
      <rect x={1240} y={655} width={7} height={38} fill="url(#heat)" />
      {[['1', 656], ['0.5', 665], ['0', 674], ['−0.5', 683.5], ['−1', 692.5]].map(([s, y]: any) => (
        <g key={s}>
          <line x1={1240} x2={1242} y1={y} y2={y} stroke="#fff" strokeWidth={0.8} />
          <line x1={1245} x2={1247} y1={y} y2={y} stroke="#fff" strokeWidth={0.8} />
          {t(1250, y + 2, s, 6, { fill: '#222' })}
        </g>
      ))}
      {t(1240, 706.5, 'Index', 6.5, { weight: 'bold' })}
      <rect x={1240} y={710.5} width={7} height={5.5} fill="#4b9e6c" />
      {t(1250, 716, 'Activity', 6.2, { fill: '#222' })}
      <rect x={1240} y={717} width={7} height={5.5} fill="#d65050" />
      {t(1250, 722.5, 'Chronicity', 6.2, { fill: '#222' })}
    </svg>
  );
}

export default function App() {
  return (
    <div style={{ position: 'absolute', left: 0, top: 0, width: 1280, height: 804, overflow: 'hidden', background: '#fff', fontFamily: FONT }}>
      <Volcano left={0} width={400} height={530} plotTop={38} yAxisW={52} marginRight={11} xAxisH={58} xDomain={[-1.05, 1.05]} yMax={7}
        names={actNames} corr={actCorr} logq={actLogQ} bCorr={actBubbleCorr} bLogQ={actBubbleLogQ} bSign={actBubbleSign}
        links={actLinks} refNames={actRefNames} refCorr={actRefCorr} refLogQ={actRefLogQ} refLinks={actRefLinks} zRange={[4536, 5542]} />
      <Volcano left={400} width={400} height={530} plotTop={38} yAxisW={51.7} marginRight={20} xAxisH={59} xDomain={[-1.0, 1.04]} yMax={8}
        names={chrNames} corr={chrCorr} logq={chrLogQ} bCorr={chrBubbleCorr} bLogQ={chrBubbleLogQ} bSign={chrBubbleSign}
        links={chrLinks} refNames={chrRefNames} refCorr={chrRefCorr} refLogQ={chrRefLogQ} refLinks={chrRefLinks} zRange={[3217, 5542]} />
      <DotPlot left={780} top={0} width={440} height={240} plotTop={37.3} yAxisW={263.3} marginRight={8.3} xAxisH={40.7}
        xDomain={[-0.08, 1.86]} xTicks={[0, 0.5, 1, 1.5]} xMinor={[0.25, 0.75, 1.25, 1.75]}
        cats={actPathways} nes={actNES} logp={actLogP} prot={actProteins} zRange={[28, 314]} />
      <DotPlot left={780} top={250} width={440} height={280} plotTop={34.3} yAxisW={262.7} marginRight={9} xAxisH={51.7}
        xDomain={[-0.1, 2.05]} xTicks={[0, 0.5, 1, 1.5, 2]} xMinor={[0.25, 0.75, 1.25, 1.75]}
        cats={chrPathways} nes={chrNES} logp={chrLogP} prot={chrProteins} zRange={[12.6, 314]} />
      {eLayout.map((_, k) => <BoxPanel key={k} k={k} />)}
      <Heatmap />
      <Overlay />
    </div>
  );
}
